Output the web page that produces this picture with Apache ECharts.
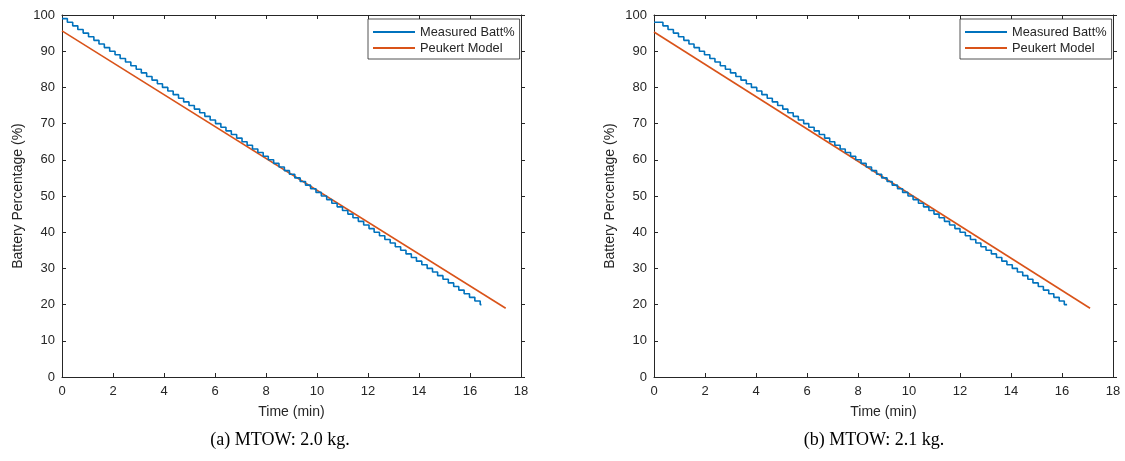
<!DOCTYPE html>
<html>
<head>
<meta charset="utf-8">
<script src="https://cdn.jsdelivr.net/npm/echarts@6/dist/echarts.min.js"></script>
<style>
html,body{margin:0;padding:0;background:#fff;}
#c{width:1125px;height:461px;}
</style>
</head>
<body>
<div id="c"></div>
<script>
// ---- data ----
var xTicks = [0, 2, 4, 6, 8, 10, 12, 14, 16, 18];
var yTicks = [0, 10, 20, 30, 40, 50, 60, 70, 80, 90, 100];
var seriesNames = ['Measured Batt%', 'Peukert Model'];
var captions = ['(a) MTOW: 2.0 kg.', '(b) MTOW: 2.1 kg.'];

// Panel (a): measured staircase – time (min) at which each level starts
var measuredTimeA = [0, 0.21, 0.42, 0.62, 0.83, 1.04, 1.25, 1.45, 1.66, 1.87,
  2.08, 2.28, 2.49, 2.70, 2.91, 3.11, 3.32, 3.53, 3.74, 3.94,
  4.15, 4.36, 4.57, 4.77, 4.98, 5.19, 5.40, 5.60, 5.81, 6.02,
  6.23, 6.43, 6.64, 6.85, 7.06, 7.26, 7.47, 7.68, 7.89, 8.09,
  8.30, 8.51, 8.72, 8.92, 9.13, 9.34, 9.55, 9.75, 9.96, 10.17,
  10.38, 10.58, 10.79, 11.00, 11.21, 11.41, 11.62, 11.83, 12.04, 12.24,
  12.45, 12.66, 12.87, 13.07, 13.28, 13.49, 13.70, 13.90, 14.11, 14.32,
  14.53, 14.73, 14.94, 15.15, 15.36, 15.56, 15.77, 15.98, 16.19, 16.40, 16.45];
var measuredLevelA = [99, 98, 97, 96, 95, 94, 93, 92, 91, 90,
  89, 88, 87, 86, 85, 84, 83, 82, 81, 80,
  79, 78, 77, 76, 75, 74, 73, 72, 71, 70,
  69, 68, 67, 66, 65, 64, 63, 62, 61, 60,
  59, 58, 57, 56, 55, 54, 53, 52, 51, 50,
  49, 48, 47, 46, 45, 44, 43, 42, 41, 40,
  39, 38, 37, 36, 35, 34, 33, 32, 31, 30,
  29, 28, 27, 26, 25, 24, 23, 22, 21, 20, 20];
var modelTimeA = [0, 17.4];
var modelLevelA = [95.6, 19.0];

// Panel (b)
var measuredTimeB = [0, 0.35, 0.55, 0.76, 0.96, 1.17, 1.37, 1.57, 1.78, 1.98, 2.19,
  2.39, 2.60, 2.80, 3.00, 3.21, 3.41, 3.62, 3.82, 4.03, 4.23,
  4.44, 4.64, 4.85, 5.05, 5.25, 5.46, 5.66, 5.87, 6.07, 6.28,
  6.48, 6.69, 6.89, 7.09, 7.30, 7.50, 7.71, 7.91, 8.12, 8.32,
  8.53, 8.73, 8.93, 9.14, 9.34, 9.55, 9.75, 9.96, 10.16, 10.37,
  10.57, 10.78, 10.98, 11.18, 11.39, 11.59, 11.80, 12.00, 12.21, 12.41,
  12.62, 12.82, 13.02, 13.23, 13.43, 13.64, 13.84, 14.05, 14.25, 14.46,
  14.66, 14.86, 15.07, 15.27, 15.48, 15.68, 15.89, 16.09, 16.20];
var measuredLevelB = [98, 97, 96, 95, 94, 93, 92, 91, 90, 89,
  88, 87, 86, 85, 84, 83, 82, 81, 80, 79,
  78, 77, 76, 75, 74, 73, 72, 71, 70, 69,
  68, 67, 66, 65, 64, 63, 62, 61, 60, 59,
  58, 57, 56, 55, 54, 53, 52, 51, 50, 49,
  48, 47, 46, 45, 44, 43, 42, 41, 40, 39,
  38, 37, 36, 35, 34, 33, 32, 31, 30, 29,
  28, 27, 26, 25, 24, 23, 22, 21, 20, 20];
var modelTimeB = [0, 17.1];
var modelLevelB = [95.3, 19.0];

// ---- chart ----
function zip(a, b) { return a.map(function (v, i) { return [v, b[i]]; }); }
var AX = '#262626';
var FONT = '"Liberation Sans", Arial, sans-serif';
var blue = '#0072BD', orange = '#D95319';
var grids = [
  { left: 62, top: 15, width: 459, height: 362 },
  { left: 654, top: 15, width: 459, height: 362 }
];
var captionX = [280, 874];
var xAxes = [], yAxes = [], series = [], legends = [], graphics = [];
var xMin = xTicks[0], xMax = xTicks[xTicks.length - 1], xInt = xTicks[1] - xTicks[0];
var yMin = yTicks[0], yMax = yTicks[yTicks.length - 1], yInt = yTicks[1] - yTicks[0];
var panels = [
  { m: zip(measuredTimeA, measuredLevelA), p: zip(modelTimeA, modelLevelA) },
  { m: zip(measuredTimeB, measuredLevelB), p: zip(modelTimeB, modelLevelB) }
];
grids.forEach(function (g, gi) {
  xAxes.push({
    type: 'value', gridIndex: gi, min: xMin, max: xMax, interval: xInt, position: 'bottom',
    name: 'Time (min)', nameLocation: 'middle', nameGap: 28,
    nameTextStyle: { color: AX, fontSize: 14, fontFamily: FONT },
    axisLine: { show: true, onZero: false, lineStyle: { color: AX, width: 1 } },
    axisTick: { show: true, inside: true, length: 4, lineStyle: { color: AX } },
    axisLabel: { color: AX, fontSize: 13, fontFamily: FONT, margin: 8 },
    splitLine: { show: false }
  });
  xAxes.push({
    type: 'value', gridIndex: gi, min: xMin, max: xMax, interval: xInt, position: 'top',
    axisLine: { show: true, onZero: false, lineStyle: { color: AX, width: 1 } },
    axisTick: { show: true, inside: true, length: 4, lineStyle: { color: AX } },
    axisLabel: { show: false }, splitLine: { show: false }
  });
  yAxes.push({
    type: 'value', gridIndex: gi, min: yMin, max: yMax, interval: yInt, position: 'left',
    name: 'Battery Percentage (%)', nameLocation: 'middle', nameGap: 37, nameRotate: 90,
    nameTextStyle: { color: AX, fontSize: 14, fontFamily: FONT },
    axisLine: { show: true, onZero: false, lineStyle: { color: AX, width: 1 } },
    axisTick: { show: true, inside: true, length: 4, lineStyle: { color: AX } },
    axisLabel: { color: AX, fontSize: 13, fontFamily: FONT, margin: 7 },
    splitLine: { show: false }
  });
  yAxes.push({
    type: 'value', gridIndex: gi, min: yMin, max: yMax, interval: yInt, position: 'right',
    axisLine: { show: true, onZero: false, lineStyle: { color: AX, width: 1 } },
    axisTick: { show: true, inside: false, length: 4, lineStyle: { color: AX } },
    axisLabel: { show: false }, splitLine: { show: false }
  });
  series.push({
    name: seriesNames[0], type: 'line', xAxisIndex: gi * 2, yAxisIndex: gi * 2,
    data: panels[gi].m, step: 'end', showSymbol: false, symbol: 'none',
    lineStyle: { color: blue, width: 1.6 }, itemStyle: { color: blue },
    animation: false, z: 3
  });
  series.push({
    name: seriesNames[1], type: 'line', xAxisIndex: gi * 2, yAxisIndex: gi * 2,
    data: panels[gi].p, showSymbol: false, symbol: 'none',
    lineStyle: { color: orange, width: 1.6 }, itemStyle: { color: orange },
    animation: false, z: 2
  });
  legends.push({
    data: seriesNames.map(function (n, i) { return { name: n, icon: 'rect', itemStyle: { color: i ? orange : blue } }; }),
    orient: 'vertical', left: g.left + 306, top: 19,
    itemWidth: 42, itemHeight: 2, itemGap: 2,
    padding: [6, 5, 4, 5],
    borderColor: AX, borderWidth: 0.8, backgroundColor: '#fff',
    textStyle: { color: AX, fontSize: 12.8, fontFamily: FONT, lineHeight: 14 },
    selectedMode: false
  });
  graphics.push({
    type: 'text', x: captionX[gi], y: 431,
    style: { text: captions[gi], fill: '#000', font: '18px "Liberation Serif", serif', align: 'center', verticalAlign: 'top' }
  });
});
var chart = echarts.init(document.getElementById('c'), null, { renderer: 'canvas' });
chart.setOption({
  animation: false,
  backgroundColor: '#fff',
  grid: grids,
  xAxis: xAxes,
  yAxis: yAxes,
  legend: legends,
  series: series,
  graphic: graphics
});
</script>
</body>
</html>
